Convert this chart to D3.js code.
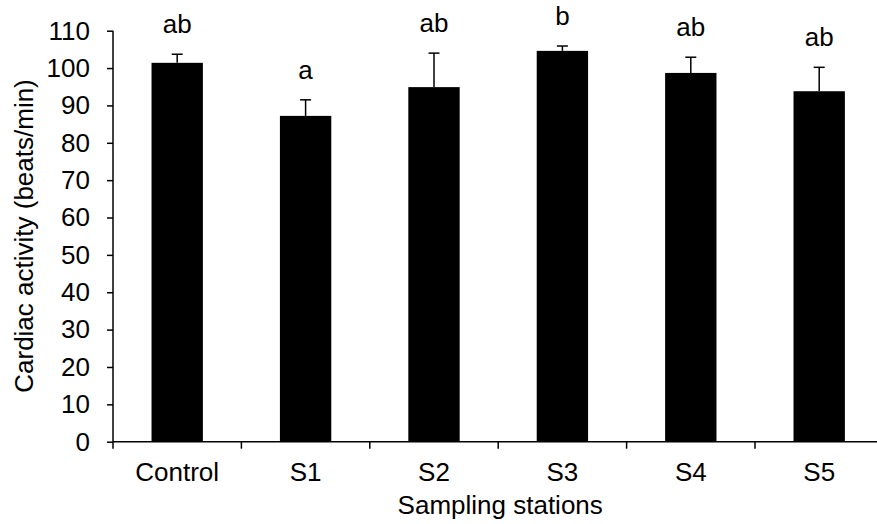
<!DOCTYPE html>
<html>
<head>
<meta charset="utf-8">
<script src="https://cdn.jsdelivr.net/npm/d3@7"></script>
<style>
body { margin: 0; background: #fff; }
text { font-family: "Liberation Sans", Arial, sans-serif; fill: #000; }
</style>
</head>
<body>
<script>
// data
var stations = ["Control", "S1", "S2", "S3", "S4", "S5"];
var means = [101.4, 87.2, 94.9, 104.6, 98.7, 93.8];
var errors = [2.3, 4.3, 9.1, 1.3, 4.2, 6.4];
var letters = ["ab", "a", "ab", "b", "ab", "ab"];
var yTicks = [0, 10, 20, 30, 40, 50, 60, 70, 80, 90, 100, 110];

// canvas constants
var width = 877;
var height = 524;
var xBegin = 113;
var xEnd = 883.4;
var yTop = 30.7;
var yBottom = 441.7;
var fontSize = 26;

var svg = d3.select("body").append("svg")
    .attr("width", width)
    .attr("height", height);

var x = d3.scaleBand()
    .domain(stations)
    .range([xBegin, xEnd])
    .paddingInner(0.6)
    .paddingOuter(0.3);

var y = d3.scaleLinear()
    .domain([0, 110])
    .range([yBottom, yTop]);

// bars
svg.selectAll("rect.bar")
    .data(stations)
    .enter().append("rect")
    .attr("class", "bar")
    .attr("x", function(d) { return x(d); })
    .attr("width", x.bandwidth())
    .attr("y", function(d, i) { return y(means[i]); })
    .attr("height", function(d, i) { return y(0) - y(means[i]); })
    .attr("fill", "#000");

// error bars (upper half only) and letters
var capW = 5.5;
stations.forEach(function(d, i) {
    var cx = x(d) + x.bandwidth() / 2;
    svg.append("line")
        .attr("x1", cx).attr("x2", cx)
        .attr("y1", y(means[i])).attr("y2", y(means[i] + errors[i]))
        .attr("stroke", "#000").attr("stroke-width", 1.5);
    svg.append("line")
        .attr("x1", cx - capW).attr("x2", cx + capW)
        .attr("y1", y(means[i] + errors[i])).attr("y2", y(means[i] + errors[i]))
        .attr("stroke", "#000").attr("stroke-width", 1.5);
    svg.append("text")
        .attr("x", cx)
        .attr("y", y(means[i] + errors[i]) - 21)
        .attr("text-anchor", "middle")
        .attr("font-size", fontSize)
        .text(letters[i]);
});

// y axis
var yAxis = svg.append("g")
    .attr("transform", "translate(" + xBegin + ",0)")
    .call(d3.axisLeft(y).tickValues(yTicks).tickSize(6).tickPadding(17));
yAxis.selectAll("path, line").attr("stroke", "#000").attr("stroke-width", 1.5);
yAxis.select("path").attr("d", "M0," + yTop + "V" + yBottom);
yAxis.selectAll("text")
    .attr("font-size", fontSize)
    .attr("font-family", "Liberation Sans, Arial, sans-serif")
    .attr("fill", "#000");

// x axis: labels at band centres, ticks at band borders
var xAxis = svg.append("g")
    .attr("transform", "translate(0," + yBottom + ")")
    .call(d3.axisBottom(x).tickSize(0).tickPadding(21));
xAxis.select("path").attr("stroke", "#000").attr("stroke-width", 1.5)
    .attr("d", "M" + xBegin + ",0H" + xEnd);
xAxis.selectAll("text")
    .attr("font-size", fontSize)
    .attr("font-family", "Liberation Sans, Arial, sans-serif")
    .attr("fill", "#000");

var borders = stations.map(function(d) { return x(d) - x.step() * x.paddingInner() / 2; });
svg.selectAll("line.xtick")
    .data(borders)
    .enter().append("line")
    .attr("class", "xtick")
    .attr("x1", function(d) { return d; })
    .attr("x2", function(d) { return d; })
    .attr("y1", yBottom)
    .attr("y2", yBottom + 7)
    .attr("stroke", "#000")
    .attr("stroke-width", 1.5);

// axis titles
svg.append("text")
    .attr("x", (xBegin + xEnd) / 2 + 2)
    .attr("y", 514)
    .attr("text-anchor", "middle")
    .attr("font-size", fontSize)
    .text("Sampling stations");

svg.append("text")
    .attr("transform", "translate(33,236) rotate(-90)")
    .attr("text-anchor", "middle")
    .attr("font-size", fontSize)
    .text("Cardiac activity (beats/min)");
</script>
</body>
</html>
